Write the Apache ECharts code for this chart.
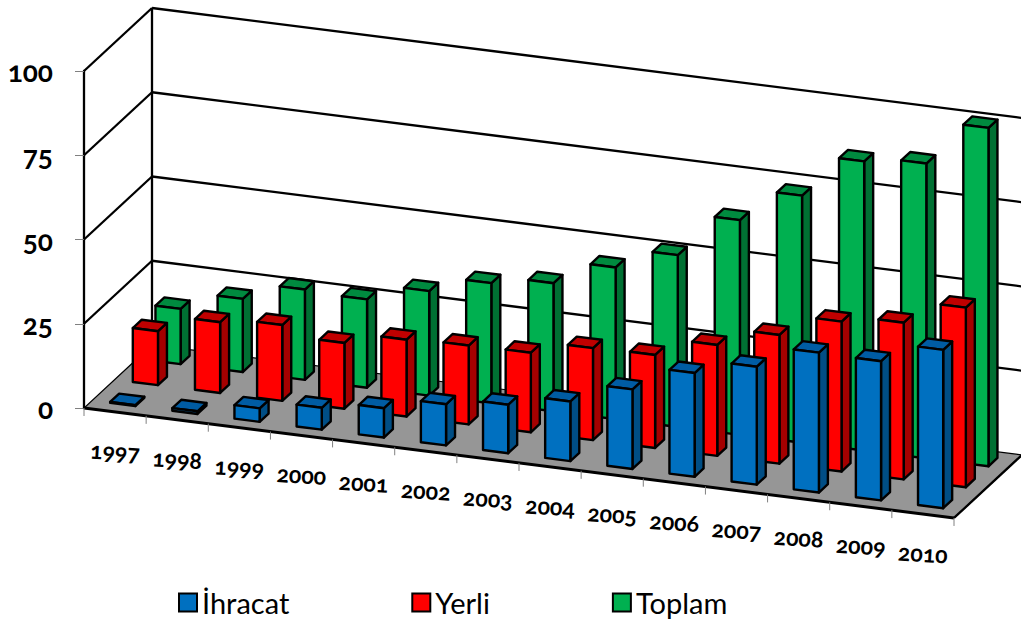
<!DOCTYPE html>
<html>
<head>
<meta charset="utf-8">
<style>
html,body{margin:0;padding:0;background:#fff;overflow:hidden}
#c{width:1021px;height:621px}
svg text{font-feature-settings:"onum" 1;font-variant-numeric:oldstyle-nums}
</style>
<script src="https://cdn.jsdelivr.net/npm/echarts@6/dist/echarts.min.js"></script>
</head>
<body>
<div id="c"></div>
<script>
var categories = ['1997','1998','1999','2000','2001','2002','2003','2004','2005','2006','2007','2008','2009','2010'];
var ihracat = [0.3,0.8,4,6.5,8.7,12.2,14.4,17.7,23.6,30.8,35,41.5,41.3,47];
var yerli = [16,21,22.5,19.5,22.8,23.4,23.6,27.3,27.6,32.9,38.2,44.5,46.5,53.3];
var toplam = [16.4,21.7,26.8,26.2,31,35.7,38,45,51,63.7,73.3,85.8,87.5,100.4];
var yTicks = [0,25,50,75,100];

var FONT = 'Lato';
var SLOPE = 0.1264, DEPTH_X = 68, DEPTH_Y = 63;
var BAR_W = 0.405, BAR_OFF = 0.293, BAR_D = 0.132;

function project(api, i, frac, v, d) {
  var c = api.coord([i, v]);
  var band = api.size([1, 0])[0];
  var left = api.coord([0, 0])[0] - band / 2;
  var x = c[0] - band / 2 + frac * band;
  return [x + DEPTH_X * d, c[1] + (x - left) * SLOPE - DEPTH_Y * d];
}

function barSeries(name, values, d0, front, top, side) {
  return {
    name: name, type: 'custom', itemStyle: {color: front, borderColor: '#000', borderWidth: 2.5},
    encode: {x: 0, y: 1},
    data: values.map(function (v, i) { return [i, v]; }),
    renderItem: function (params, api) {
      var i = api.value(0), v = api.value(1);
      var f0 = BAR_OFF, f1 = BAR_OFF + BAR_W, d1 = d0 + BAR_D;
      var A = project(api, i, f0, 0, d0), B = project(api, i, f1, 0, d0);
      var C = project(api, i, f1, v, d0), D = project(api, i, f0, v, d0);
      var E = project(api, i, f1, 0, d1), F = project(api, i, f1, v, d1), G = project(api, i, f0, v, d1);
      function poly(pts, fill) {
        return {type: 'polygon', shape: {points: pts},
          style: {fill: fill, stroke: '#000', lineWidth: 2.4, lineJoin: 'round'}};
      }
      return {type: 'group', children: [poly([B, E, F, C], side), poly([D, C, F, G], top), poly([A, B, C, D], front)]};
    }
  };
}

var frameSeries = {
  name: 'frame', type: 'custom', encode: {x: 0, y: 1}, z: 1,
  data: [[0, 0]],
  renderItem: function (params, api) {
    var n = categories.length, kids = [];
    function pt(i, frac, v, d) { return project(api, i, frac, v, d); }
    function line(a, b, w, col) {
      return {type: 'line', shape: {x1: a[0], y1: a[1], x2: b[0], y2: b[1]},
        style: {stroke: col || '#000', lineWidth: w}};
    }
    var a = pt(0, 0, 0, 0), b = pt(n - 1, 1, 0, 0), c = pt(n - 1, 1, 0, 1), e = pt(0, 0, 0, 1);
    kids.push({type: 'polygon', shape: {points: [a, b, c, e]},
      style: {fill: '#969696', stroke: '#000', lineWidth: 1.2}});
    yTicks.forEach(function (t) {
      var p0 = pt(0, 0, t, 0), p1 = pt(0, 0, t, 1), p2 = pt(n - 1, 1, t, 1);
      if (t > 0) { kids.push(line(p0, p1, 2.3)); kids.push(line(p1, p2, 2.3)); }
    });
    kids.push(line(pt(0, 0, 0, 1), pt(0, 0, 100, 1), 2.3));
    kids.push(line(a, b, 3));
    kids.push(line(b, c, 2.3));
    return {type: 'group', children: kids};
  }
};

var xLabelSeries = {
  name: 'xlabels', type: 'custom', encode: {x: 0, y: 1}, z: 1,
  data: categories.map(function (c, i) { return [i, 0]; }),
  renderItem: function (params, api) {
    var i = api.value(0);
    var tk = project(api, i, 1, 0, 0), mid = project(api, i, 0.5, 0, 0), kids = [];
    kids.push({type: 'line', shape: {x1: tk[0], y1: tk[1], x2: tk[0], y2: tk[1] + 8},
      style: {stroke: '#808080', lineWidth: 1}});
    if (i === 0) {
      var t0 = project(api, 0, 0, 0, 0);
      kids.push({type: 'line', shape: {x1: t0[0], y1: t0[1], x2: t0[0], y2: t0[1] + 8},
        style: {stroke: '#808080', lineWidth: 1}});
    }
    kids.push({type: 'text', x: mid[0], y: mid[1] + 39, rotation: -0.06,
      style: {text: categories[i], fontFamily: FONT, fontWeight: 'bold', fontSize: 23,
        fill: '#000', textAlign: 'center', textVerticalAlign: 'middle'}});
    return {type: 'group', children: kids};
  }
};

var chart = echarts.init(document.getElementById('c'), null, {renderer: 'svg'});
chart.setOption({
  animation: false,
  backgroundColor: '#fff',
  grid: {left: 84, right: 67, top: 71, bottom: 213},
  legend: {
    data: ['İhracat', 'Yerli', 'Toplam'], left: 173, top: 583, itemGap: 122,
    itemWidth: 18, itemHeight: 18, icon: 'rect',
    textStyle: {fontFamily: FONT, fontSize: 29, color: '#000'}
  },
  xAxis: {type: 'category', data: categories, axisLine: {show: false}, axisTick: {show: false},
    axisLabel: {show: false}, splitLine: {show: false}},
  yAxis: {type: 'value', min: 0, max: 100, interval: 25, splitLine: {show: false},
    axisLine: {show: true, lineStyle: {color: '#000', width: 2.3}},
    axisTick: {show: true, length: 9, lineStyle: {color: '#808080', width: 1}},
    axisLabel: {margin: 31, fontFamily: FONT, fontWeight: 'bold', fontSize: 28, color: '#000'}},
  series: [
    frameSeries,
    xLabelSeries,
    barSeries('Toplam', toplam, 0.783, '#00B050', '#008A3F', '#007033'),
    barSeries('Yerli', yerli, 0.45, '#FF0000', '#C00000', '#A50000'),
    barSeries('İhracat', ihracat, 0.117, '#0070C0', '#005CA3', '#004E85')
  ]
});
</script>
</body>
</html>
